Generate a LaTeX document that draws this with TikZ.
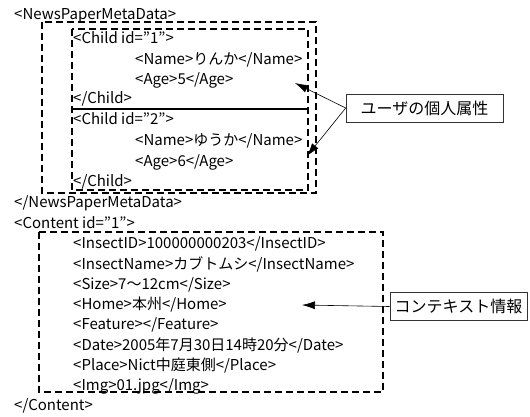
\documentclass[tikz,border=0pt]{standalone}
\usepackage{fontspec}
\setmainfont{Noto Sans CJK JP}
\usetikzlibrary{arrows.meta}
\begin{document}
\begin{tikzpicture}
  [
    x=1pt, y=-1pt,
    font=\fontsize{15}{17}\selectfont,
    txt/.style={anchor=west, inner sep=0pt},
    grp/.style={line width=1.6pt, dash pattern=on 7pt off 4pt},
    sep/.style={line width=1.2pt},
    lbl/.style={draw=black!80, line width=0.6pt, font=\fontsize{16}{18}\selectfont,
                minimum height=28pt, inner sep=0pt},
    ptr/.style={line width=0.6pt, -{Latex[length=13pt,width=8pt]}}
  ]
  \useasboundingbox (0,0) rectangle (530,416);
  \node [txt] (L1)  at (14,  16)  {<NewsPaperMetaData>};
  \node [txt] (L2)  at (73,  38)  {<Child id=”1”>};
  \node [txt] (L3)  at (135, 60)  {<Name>りんか</Name>};
  \node [txt] (L4)  at (135, 80)  {<Age>5</Age>};
  \node [txt] (L5)  at (73,  99)  {</Child>};
  \node [txt] (L6)  at (73,  119) {<Child id=”2”>};
  \node [txt] (L7)  at (135, 141) {<Name>ゆうか</Name>};
  \node [txt] (L8)  at (135, 162) {<Age>6</Age>};
  \node [txt] (L9)  at (73,  182) {</Child>};
  \node [txt] (L10) at (14,  203) {</NewsPaperMetaData>};
  \node [txt] (L11) at (14,  223) {<Content id=”1”>};
  \node [txt] (L12) at (73,  244) {<InsectID>100000000203</InsectID>};
  \node [txt] (L13) at (73,  264) {<InsectName>カブトムシ</InsectName>};
  \node [txt] (L14) at (73,  285) {<Size>7〜12cm</Size>};
  \node [txt] (L15) at (73,  305) {<Home>本州</Home>};
  \node [txt] (L16) at (73,  325) {<Feature></Feature>};
  \node [txt] (L17) at (73,  346) {<Date>2005年7月30日14時20分</Date>};
  \node [txt] (L18) at (73,  366) {<Place>Nict中庭東側</Place>};
  \node [txt] (L19) at (73,  386) {<Img>01.jpg</Img>};
  \node [txt] (L20) at (14,  406) {</Content>};
  % dashed groups
  \draw [grp] (42, 22) rectangle (316, 193);
  \draw [grp] (72, 29) rectangle (308, 190);
  \draw [grp] (39, 232) rectangle (383, 392);
  \draw [sep] (72, 109) -- (308, 109);
  % callouts
  \node [lbl, minimum width=157pt] (user) at (424.5, 108) {ユーザの個人属性};
  \node [lbl, minimum width=137pt] (ctx)  at (458.5, 306.5) {コンテキスト情報};
  \coordinate (tipA) at (295, 83);
  \coordinate (tipB) at (307, 156);
  \coordinate (tipC) at (302, 305);
  \draw [ptr] (user.west) -- (tipA);
  \draw [ptr] (user.west) -- (tipB);
  \draw [ptr] (ctx.west)  -- (tipC);
\end{tikzpicture}
\end{document}
